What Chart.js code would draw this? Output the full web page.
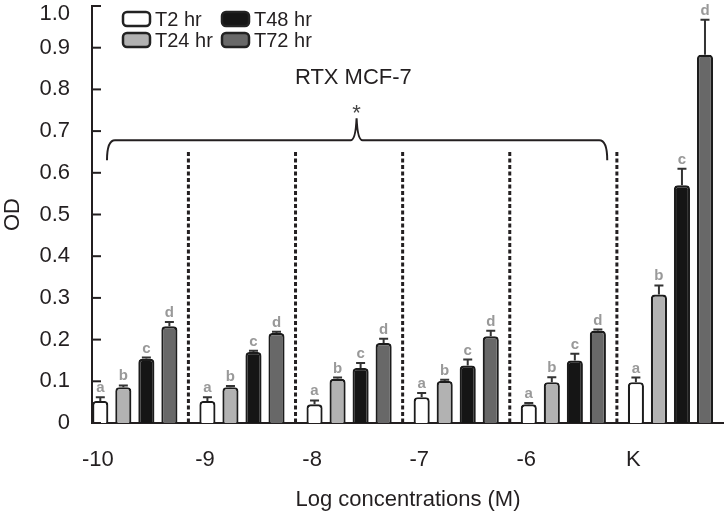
<!DOCTYPE html>
<html>
<head>
<meta charset="utf-8">
<title>OD by log concentration</title>
<script src="https://cdn.jsdelivr.net/npm/chart.js@4/dist/chart.umd.min.js"></script>
<style>
  html, body { margin: 0; padding: 0; background: #fff; }
  #wrap { width: 724px; height: 514px; }
</style>
</head>
<body>
<div id="wrap"><canvas id="chart"></canvas></div>
<script>
// Data
const categories = ['-10', '-9', '-8', '-7', '-6', 'K'];
const seriesNames = ['T2 hr', 'T24 hr', 'T48 hr', 'T72 hr'];
const sigLetters = ['a', 'b', 'c', 'd'];

const t2 = [0.053, 0.053, 0.045, 0.062, 0.045, 0.098];
const t24 = [0.086, 0.086, 0.106, 0.101, 0.098, 0.308];
const t48 = [0.154, 0.170, 0.132, 0.138, 0.150, 0.570];
const t72 = [0.232, 0.216, 0.192, 0.208, 0.221, 0.883];

const t2Err = [0.009, 0.009, 0.009, 0.010, 0.003, 0.011];
const t24Err = [0.004, 0.003, 0.003, 0.003, 0.012, 0.022];
const t48Err = [0.003, 0.003, 0.012, 0.014, 0.016, 0.040];
const t72Err = [0.010, 0.003, 0.010, 0.013, 0.003, 0.084];

const yTicks = [0, 0.1, 0.2, 0.3, 0.4, 0.5, 0.6, 0.7, 0.8, 0.9, 1.0];

const seriesValues = [t2, t24, t48, t72];
const seriesErrors = [t2Err, t24Err, t48Err, t72Err];
const fillColors = ['#ffffff', '#b2b2b2', '#151515', '#686868'];

const FONT = "'Liberation Sans', Arial, sans-serif";
const INK = '#231f20';

// error bars, significance letters, separators, bracket and legend
const overlay = {
  id: 'overlay',
  afterDatasetsDraw(chart) {
    const { ctx } = chart;
    const x = chart.scales.x;
    const y = chart.scales.y;
    ctx.save();

    // inward tick marks on the y axis
    ctx.strokeStyle = INK;
    ctx.lineWidth = 2;
    y.ticks.forEach(t => {
      const py = y.getPixelForValue(t.value);
      ctx.beginPath();
      ctx.moveTo(x.left, py);
      ctx.lineTo(x.left + 9, py);
      ctx.stroke();
    });

    // dashed separators between concentration groups
    ctx.setLineDash([4, 2.5]);
    ctx.lineWidth = 3;
    for (let i = 0; i < categories.length - 1; i++) {
      const px = x.getPixelForValue(i + 0.5);
      ctx.beginPath();
      ctx.moveTo(px, y.getPixelForValue(0.65));
      ctx.lineTo(px, y.bottom);
      ctx.stroke();
    }
    ctx.setLineDash([]);

    // error bars (upper only) + letters
    chart.data.datasets.forEach((ds, di) => {
      const meta = chart.getDatasetMeta(di);
      meta.data.forEach((bar, i) => {
        const top = y.getPixelForValue(ds.data[i].y);
        const cap = y.getPixelForValue(ds.data[i].y + ds.err[i]);
        ctx.strokeStyle = '#333';
        ctx.lineWidth = 2;
        ctx.beginPath();
        ctx.moveTo(bar.x, top);
        ctx.lineTo(bar.x, cap);
        ctx.moveTo(bar.x - 4.5, cap);
        ctx.lineTo(bar.x + 4.5, cap);
        ctx.stroke();

        ctx.fillStyle = '#999';
        ctx.font = 'bold 15px ' + FONT;
        ctx.textAlign = 'center';
        ctx.textBaseline = 'alphabetic';
        ctx.fillText(ds.letter, bar.x, cap - 5);
      });
    });

    // bracket over the RTX groups
    const bx0 = x.getPixelForValue(-0.26);
    const bx1 = x.getPixelForValue(4.41);
    const bxm = x.getPixelForValue(2.07);
    const by = y.getPixelForValue(0.678);
    const byEnd = y.getPixelForValue(0.63);
    const byPeak = y.getPixelForValue(0.731);
    ctx.strokeStyle = INK;
    ctx.lineWidth = 2;
    ctx.beginPath();
    ctx.moveTo(bx0, byEnd);
    ctx.quadraticCurveTo(bx0, by, bx0 + 8, by);
    ctx.lineTo(bxm - 6, by);
    ctx.quadraticCurveTo(bxm - 1, by, bxm, byPeak);
    ctx.quadraticCurveTo(bxm + 1, by, bxm + 6, by);
    ctx.lineTo(bx1 - 8, by);
    ctx.quadraticCurveTo(bx1, by, bx1, byEnd);
    ctx.stroke();

    ctx.fillStyle = '#444';
    ctx.font = '22px ' + FONT;
    ctx.textAlign = 'center';
    ctx.textBaseline = 'alphabetic';
    ctx.fillText('*', bxm, y.getPixelForValue(0.755) + 12);

    ctx.fillStyle = INK;
    ctx.font = '22px ' + FONT;
    ctx.textBaseline = 'middle';
    ctx.fillText('RTX MCF-7', x.getPixelForValue(2.04), y.getPixelForValue(0.827));

    // legend, two columns
    const cols = [123, 222];
    const rows = [12, 33];
    ctx.font = '20px ' + FONT;
    ctx.textAlign = 'left';
    chart.data.datasets.forEach((ds, di) => {
      const lx = cols[Math.floor(di / 2)];
      const ly = rows[di % 2];
      ctx.beginPath();
      ctx.roundRect(lx, ly, 27, 14, 4);
      ctx.fillStyle = ds.backgroundColor;
      ctx.fill();
      ctx.lineWidth = 2.5;
      ctx.strokeStyle = '#222';
      ctx.stroke();
      ctx.fillStyle = INK;
      ctx.textBaseline = 'middle';
      ctx.fillText(ds.label, lx + 32, ly + 8);
    });

    ctx.restore();
  }
};

new Chart(document.getElementById('chart'), {
  type: 'bar',
  data: {
    datasets: seriesNames.map((name, k) => ({
      label: name,
      data: seriesValues[k].map((v, i) => ({ x: i, y: v })),
      err: seriesErrors[k],
      letter: sigLetters[k],
      backgroundColor: fillColors[k],
      borderColor: '#1c1c1c',
      borderWidth: 2.2,
      borderRadius: { topLeft: 4, topRight: 4 },
      borderSkipped: 'bottom',
      categoryPercentage: 0.86,
      barPercentage: 0.70
    }))
  },
  options: {
    responsive: true,
    maintainAspectRatio: false,
    animation: false,
    devicePixelRatio: 1,
    layout: { padding: 0 },
    plugins: {
      legend: { display: false },
      tooltip: { enabled: false }
    },
    scales: {
      x: {
        type: 'linear',
        offset: false,
        min: -0.4,
        max: 5.5,
        grid: { display: false, drawTicks: false },
        border: { display: true, color: INK, width: 2 },
        afterBuildTicks: s => { s.ticks = categories.map((c, i) => ({ value: i })); },
        afterFit: s => { s.height = 91; },
        ticks: {
          callback: v => categories[v],
          labelOffset: -37,
          padding: 24,
          autoSkip: false,
          maxRotation: 0,
          color: INK,
          font: { family: FONT, size: 22 }
        },
        title: {
          display: true,
          text: 'Log concentrations (M)',
          color: INK,
          font: { family: FONT, size: 22 },
          padding: { top: 0, bottom: 1 }
        }
      },
      y: {
        min: 0,
        max: 1,
        afterBuildTicks: s => { s.ticks = yTicks.map(v => ({ value: v })); },
        afterFit: s => { s.width = 92; s.paddingTop = 6; },
        grid: { display: false, drawTicks: false },
        border: { display: true, color: INK, width: 2 },
        ticks: {
          padding: 22,
          color: INK,
          font: { family: FONT, size: 22, lineHeight: 0.7 },
          // top label sits a little below its tick, as in the figure
          callback: v => (v === 0 ? '0' : v === 1 ? ['', v.toFixed(1)] : v.toFixed(1))
        },
        title: {
          display: true,
          text: 'OD',
          color: INK,
          font: { family: FONT, size: 22 },
          padding: 0
        }
      }
    }
  },
  plugins: [overlay]
});
</script>
</body>
</html>
